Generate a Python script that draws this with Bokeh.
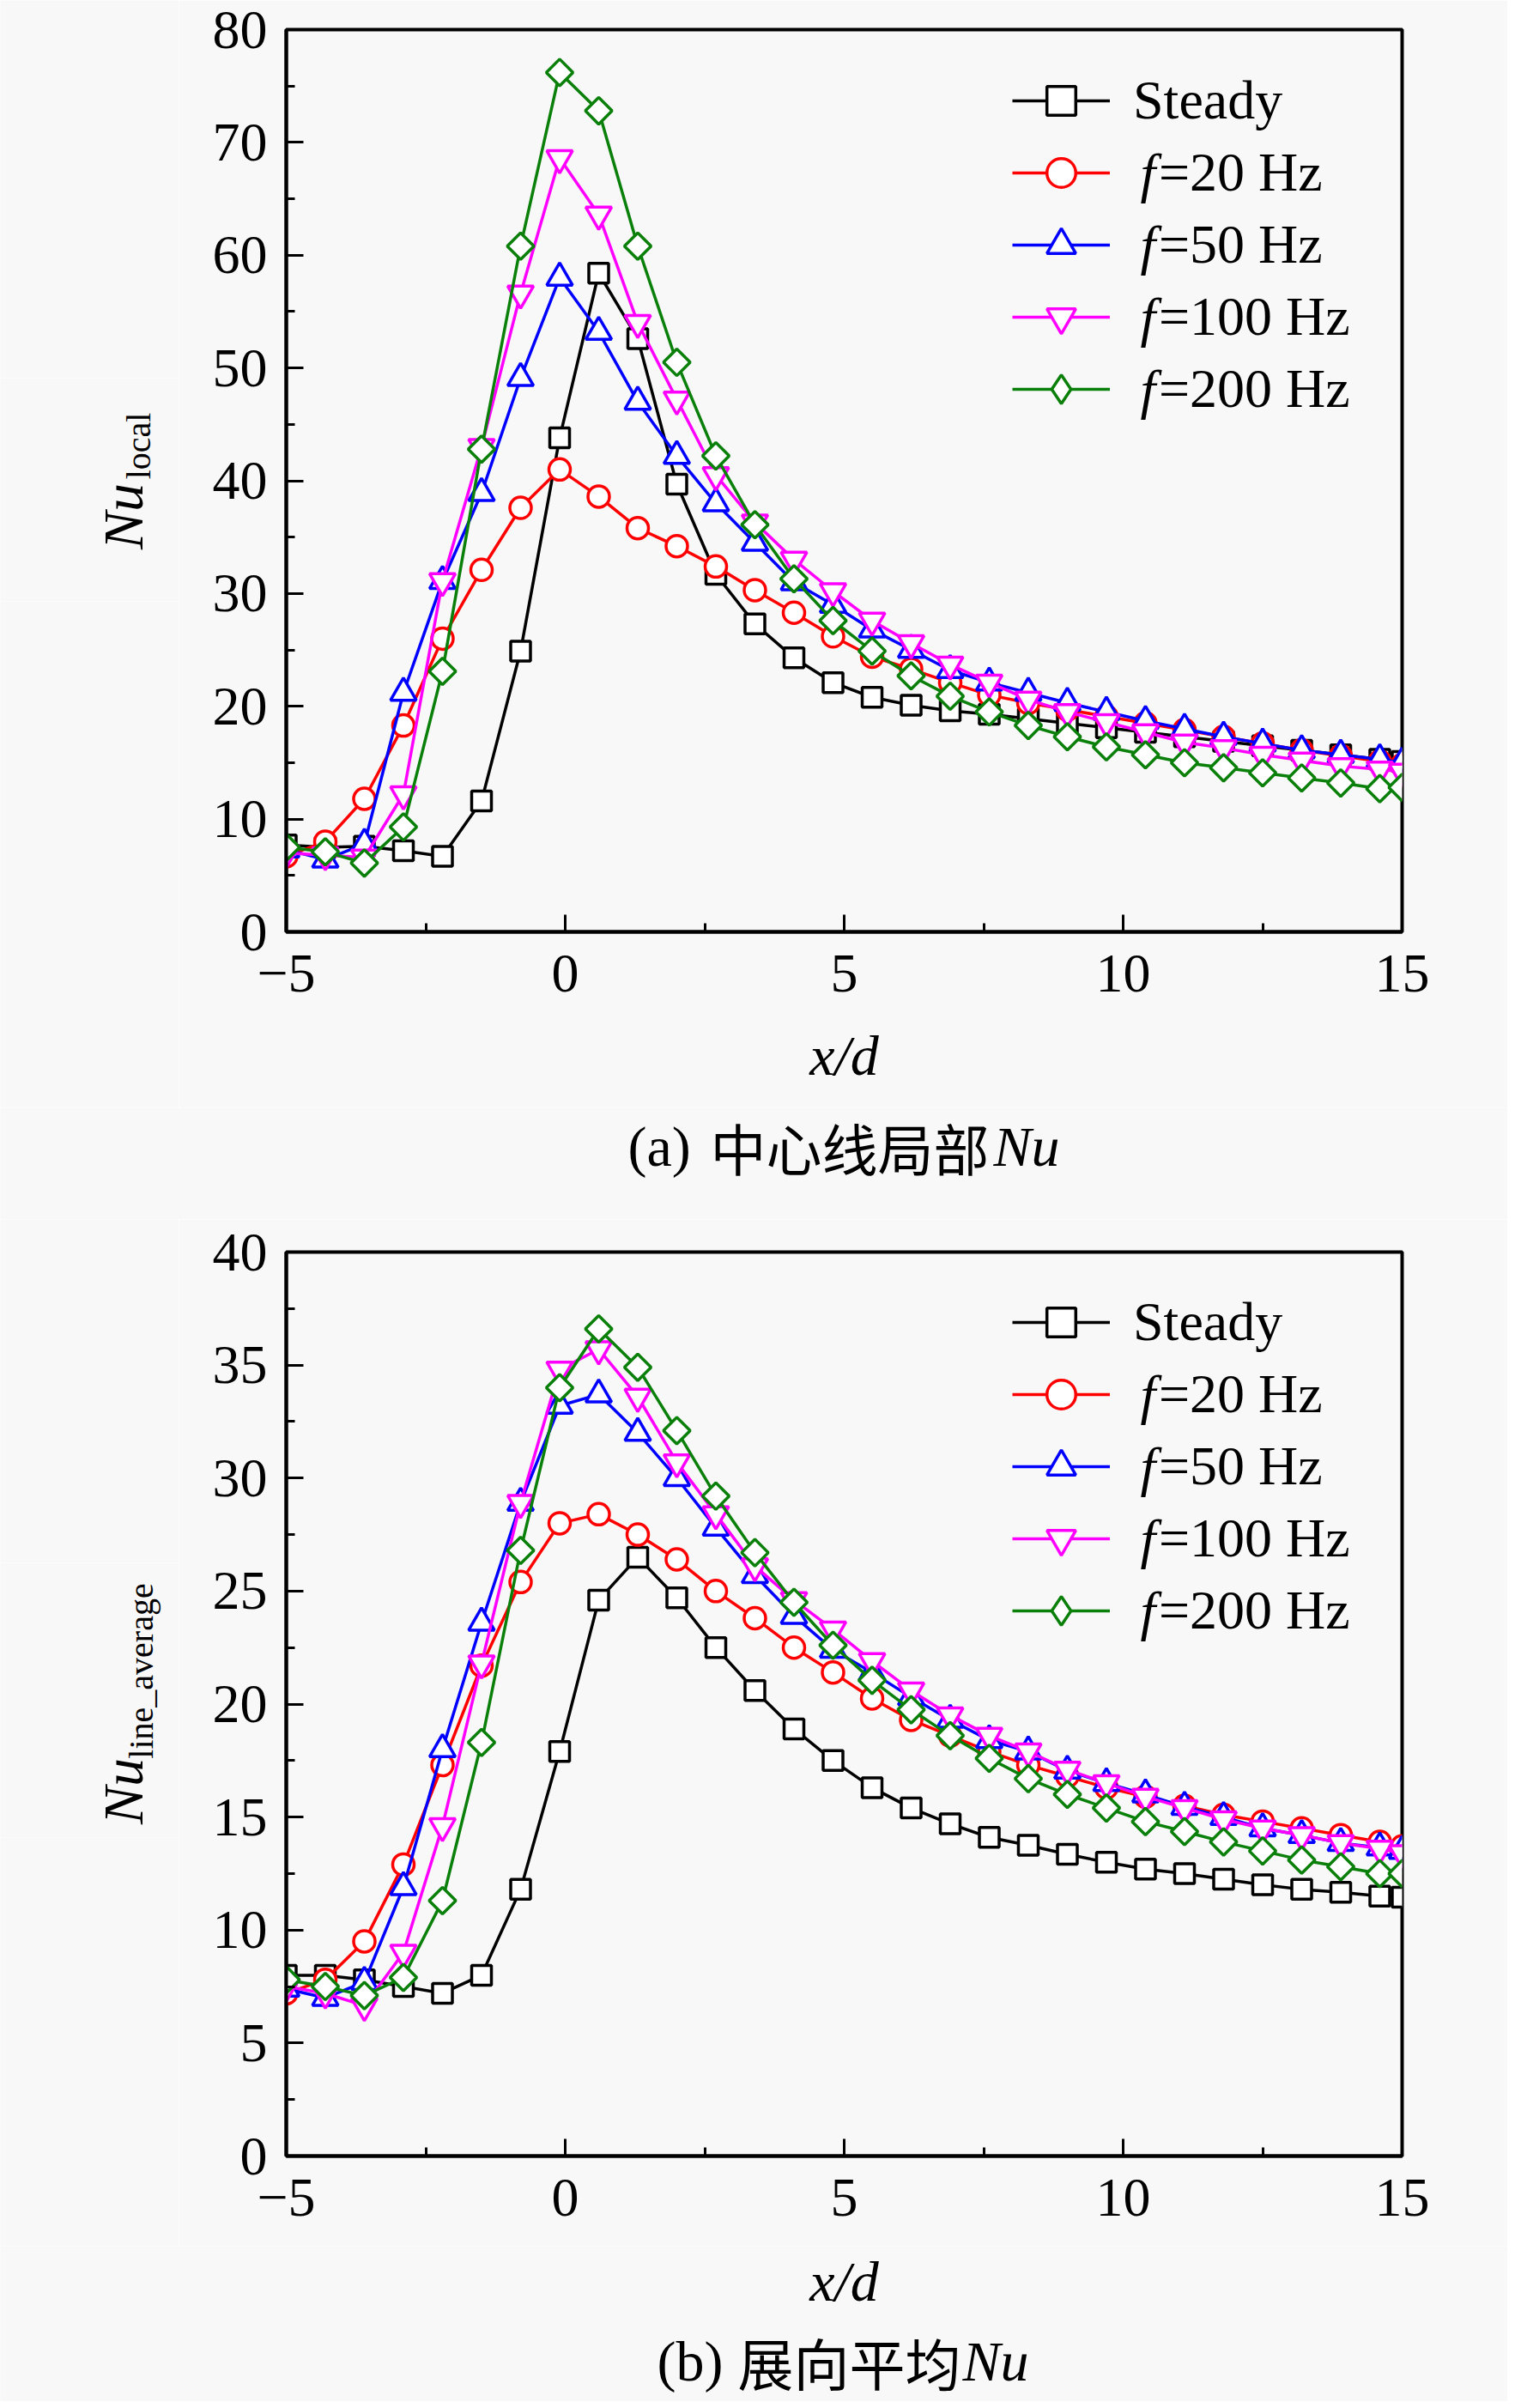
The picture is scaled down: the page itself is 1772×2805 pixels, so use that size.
import numpy as np
from bokeh.plotting import figure
from bokeh.models import Range1d, SingleIntervalTicker, Legend, LegendItem, Label
from bokeh.core.properties import value
from bokeh.layouts import column, row
from bokeh.embed import file_html
from bokeh.resources import INLINE

# ---------------- data ----------------
x_d = [-5.0, -4.3, -3.6, -2.9, -2.2, -1.5, -0.8, -0.1, 0.6, 1.3, 2.0, 2.7, 3.4, 4.1, 4.8,
       5.5, 6.2, 6.9, 7.6, 8.3, 9.0, 9.7, 10.4, 11.1, 11.8, 12.5, 13.2, 13.9, 14.6, 15.0]

series_names = ["Steady", "f=20 Hz", "f=50 Hz", "f=100 Hz", "f=200 Hz"]

# (a) centre-line local Nu
steady_a = [7.7, 7.5, 7.6, 7.2, 6.7, 11.6, 24.9, 43.8, 58.4, 52.6, 39.7, 31.7, 27.3, 24.3, 22.1,
            20.8, 20.1, 19.6, 19.3, 18.9, 18.5, 18.1, 17.7, 17.3, 16.9, 16.5, 16.1, 15.7, 15.3, 15.1]
f20_a = [6.7, 8.0, 11.8, 18.3, 26.0, 32.1, 37.6, 41.0, 38.6, 35.8, 34.2, 32.4, 30.3, 28.3, 26.2,
         24.4, 23.3, 22.1, 21.0, 20.3, 19.7, 19.1, 18.5, 17.9, 17.3, 16.7, 16.1, 15.6, 15.1, 14.8]
f50_a = [7.3, 6.4, 7.8, 21.2, 31.1, 38.9, 49.1, 58.0, 53.2, 47.0, 42.2, 38.0, 34.5, 31.0, 29.0,
         26.8, 25.0, 23.2, 22.1, 21.2, 20.3, 19.5, 18.7, 18.0, 17.3, 16.7, 16.1, 15.7, 15.3, 15.0]
f100_a = [7.0, 6.8, 6.6, 12.2, 31.1, 43.0, 56.6, 68.6, 63.6, 54.0, 47.2, 40.5, 36.3, 33.0, 30.2,
          27.6, 25.6, 23.7, 22.1, 20.6, 19.5, 18.6, 17.7, 16.8, 16.3, 15.7, 15.2, 14.7, 14.4, 14.2]
f200_a = [7.5, 7.1, 6.1, 9.3, 23.1, 42.8, 60.8, 76.2, 72.8, 60.8, 50.5, 42.2, 36.1, 31.3, 27.6,
          24.9, 22.7, 20.9, 19.5, 18.3, 17.3, 16.4, 15.7, 15.0, 14.55, 14.1, 13.65, 13.2, 12.7, 12.8]

# (b) spanwise-averaged Nu
steady_b = [8.0, 8.0, 7.8, 7.5, 7.2, 8.0, 11.8, 17.9, 24.6, 26.5, 24.7, 22.5, 20.6, 18.9, 17.5,
            16.3, 15.4, 14.7, 14.1, 13.75, 13.35, 13.0, 12.7, 12.5, 12.25, 12.0, 11.8, 11.67, 11.5, 11.45]
f20_b = [7.2, 7.8, 9.5, 12.9, 17.3, 21.7, 25.4, 28.0, 28.4, 27.5, 26.4, 25.0, 23.8, 22.5, 21.4,
         20.25, 19.3, 18.6, 17.9, 17.3, 16.8, 16.3, 15.9, 15.5, 15.1, 14.8, 14.5, 14.2, 13.9, 13.7]
f50_b = [7.4, 7.0, 7.7, 11.9, 18.0, 23.6, 28.9, 33.2, 33.7, 32.0, 30.0, 27.8, 25.7, 23.9, 22.4,
         21.4, 20.3, 19.3, 18.4, 17.9, 17.05, 16.5, 16.0, 15.45, 15.0, 14.5, 14.2, 13.85, 13.65, 13.5]
f100_b = [7.5, 7.2, 6.65, 9.0, 14.6, 21.8, 28.9, 34.8, 35.7, 33.6, 30.7, 28.4, 26.1, 24.6, 23.3,
          21.9, 20.6, 19.5, 18.6, 17.9, 17.1, 16.5, 15.9, 15.4, 14.9, 14.5, 14.2, 13.85, 13.6, 13.4]
f200_b = [7.8, 7.5, 7.1, 7.9, 11.3, 18.3, 26.8, 34.0, 36.6, 34.9, 32.1, 29.2, 26.7, 24.5, 22.6,
          21.05, 19.75, 18.6, 17.6, 16.7, 16.0, 15.4, 14.8, 14.36, 13.9, 13.5, 13.1, 12.8, 12.5, 12.5]

x_ticks_overrides = {-5: "\u22125", 0: "0", 5: "5", 10: "10", 15: "15"}

# ---------------- styles ----------------
COLORS = ["black", "#ff0000", "#0000ff", "#ff00ff", "#0a800a"]
MARKERS = ["square", "circle", "triangle", "inverted_triangle", "square"]
SIZES = [23, 25, 30, 30, 22]
ANGLES = [0, 0, 0, 0, np.pi / 4]
SERIF = "Liberation Serif"
CJK = "Noto Sans CJK SC"
BG = "#f8f8f8"
FS = "64px"
LW = 3.5

TOTAL_W = 1756
YLAB_W = 208
FRAME_W = 1300
XMIN, XMAX = -5, 15


def blank_fig(width, height):
    f = figure(width=width, height=height, x_range=Range1d(0, width),
               y_range=Range1d(0, height), output_backend="svg", toolbar_location=None,
               x_axis_type=None, y_axis_type=None)
    f.min_border = 0
    f.min_border_left = 0
    f.min_border_right = 0
    f.min_border_top = 0
    f.min_border_bottom = 0
    f.outline_line_color = None
    f.background_fill_color = BG
    f.border_fill_color = BG
    f.xgrid.visible = False
    f.ygrid.visible = False
    return f


def ylabel_column(total_h, box_top, box_h, sub_text, nu_xy, sub_xy):
    """Narrow column left of a plot: blank / label box / blank (page-pixel layout)."""
    f = blank_fig(YLAB_W, box_h)
    f.text(x=[nu_xy[0]], y=[nu_xy[1]], text=["Nu"], angle=np.pi / 2,
           text_font=value(SERIF), text_font_style="italic", text_font_size="66px",
           text_align="center", text_baseline="middle", text_color="black")
    f.text(x=[sub_xy[0]], y=[sub_xy[1]], text=[sub_text], angle=np.pi / 2,
           text_font=value(SERIF), text_font_size="40px",
           text_align="center", text_baseline="middle", text_color="black")
    upper = blank_fig(YLAB_W, box_top)
    lower = blank_fig(YLAB_W, total_h - box_top - box_h)
    return column(upper, f, lower, spacing=0)


def lab(x, y, text, font, size, italic=False, align="left"):
    return Label(x=x, y=y, text=text, text_font=font,
                 text_font_style="italic" if italic else "normal", text_font_size=size,
                 text_baseline="middle", text_align=align, text_color="black")


def caption_fig(height, tag, cjk, xs, mid_y, xd_y=None):
    f = blank_fig(TOTAL_W, height)
    if xd_y is not None:
        f.add_layout(lab(983, xd_y, "x/d", SERIF, "66px", True, "center"))
    f.add_layout(lab(xs[0], mid_y, tag, SERIF, "66px"))
    f.add_layout(lab(xs[1], mid_y, cjk, CJK, "65px"))
    f.add_layout(lab(xs[2], mid_y, "Nu", SERIF, "66px", True))
    return f


def main_fig(series, ymax, ystep, height, top, frame_h, leg_top, with_xlabel):
    p = figure(width=TOTAL_W - YLAB_W, height=height, x_range=Range1d(XMIN, XMAX),
               y_range=Range1d(0, ymax), output_backend="svg", toolbar_location=None)
    p.min_border_left = 333 - YLAB_W
    p.min_border_right = TOTAL_W - 333 - FRAME_W
    p.min_border_top = top
    p.min_border_bottom = height - top - frame_h
    p.background_fill_color = BG
    p.border_fill_color = BG
    p.outline_line_color = "black"
    p.outline_line_width = 4
    p.xgrid.visible = False
    p.ygrid.visible = False

    p.xaxis.ticker = SingleIntervalTicker(interval=5, num_minor_ticks=2)
    p.yaxis.ticker = SingleIntervalTicker(interval=ystep, num_minor_ticks=2)
    p.xaxis.major_label_overrides = x_ticks_overrides
    for ax in (p.xaxis, p.yaxis):
        ax.axis_line_width = 4
        ax.axis_line_color = "black"
        ax.major_tick_in = 20
        ax.major_tick_out = 0
        ax.minor_tick_in = 10
        ax.minor_tick_out = 0
        ax.major_tick_line_width = 3
        ax.minor_tick_line_width = 3
        ax.major_label_text_font = SERIF
        ax.major_label_text_font_size = FS
        ax.major_label_text_color = "black"
    p.xaxis.major_label_standoff = 27
    p.yaxis.major_label_standoff = 22
    if with_xlabel:
        p.xaxis.axis_label = "x/d"
        p.xaxis.axis_label_text_font = SERIF
        p.xaxis.axis_label_text_font_style = "italic"
        p.xaxis.axis_label_text_font_size = "66px"
        p.xaxis.axis_label_text_color = "black"
        p.xaxis.axis_label_standoff = 35

    items_steady, items_f = [], []
    for i, ys in enumerate(series):
        ln = p.line(x_d, ys, line_color=COLORS[i], line_width=LW)
        sc = p.scatter(x_d, ys, marker=MARKERS[i], size=SIZES[i], angle=ANGLES[i],
                       line_color=COLORS[i], line_width=LW, fill_color="white")
        if i == 0:
            items_steady.append(LegendItem(label=series_names[i], renderers=[ln, sc]))
        elif i == 4:
            # legend-only view of the same points, drawn as a diamond symbol
            dm = p.scatter(x_d, ys, marker="diamond", size=36, line_color=COLORS[i],
                           line_width=LW, fill_color="white", visible=False)
            items_f.append(LegendItem(label=series_names[i][1:], renderers=[ln, dm]))
        else:
            items_f.append(LegendItem(label=series_names[i][1:], renderers=[ln, sc]))

    row_h = 84
    leg_x = 846
    common = dict(glyph_width=114, glyph_height=row_h, label_height=row_h, spacing=0,
                  padding=0, margin=0, border_line_color=None, background_fill_alpha=0,
                  inactive_fill_alpha=0,
                  label_text_font=SERIF, label_text_font_size=FS, label_text_color="black")
    leg1 = Legend(items=items_steady, location=(leg_x, frame_h - leg_top - row_h),
                  label_standoff=27, **common)
    leg2 = Legend(items=items_f, location=(leg_x, frame_h - leg_top - 5 * row_h),
                  label_standoff=57, **common)
    p.add_layout(leg1)
    p.add_layout(leg2)

    ypp = ymax / frame_h
    xpp = (XMAX - XMIN) / FRAME_W
    for r in range(1, 5):
        p.add_layout(Label(x=XMIN + 995 * xpp, y=ymax - (leg_top + row_h * (r + 0.5)) * ypp,
                           text="f", text_font=SERIF, text_font_style="italic",
                           text_font_size=FS, text_baseline="middle", text_align="left",
                           text_color="black"))
    return p


# row 1 : 0 -> 1290 ; caption 1290 -> 1420 ; row 2 : 1420 -> 2616 ; caption 2616 -> 2797
H1, H2 = 1290, 1196
HC1, HC2 = 130, 181
p1 = main_fig([steady_a, f20_a, f50_a, f100_a, f200_a], 80, 10, H1, 34, 1051, 41, True)
B1_TOP, B1_H = 440, 260          # label box spans page y 440 -> 700
y1 = ylabel_column(H1, B1_TOP, B1_H, "local",
                   (143, B1_H - (601 - B1_TOP)), (161, B1_H - (519 - B1_TOP)))
c1 = caption_fig(HC1, "(a)", "中心线局部", (731, 827, 1157), HC1 - (1335 - 1290))

p2 = main_fig([steady_b, f20_b, f50_b, f100_b, f200_b], 40, 5, H2, 38, 1053, 40, False)
B2_TOP, B2_H = 1820 - 1420, 320  # label box spans page y 1820 -> 2140
y2 = ylabel_column(H2, B2_TOP, B2_H, "line_average",
                   (143, B2_H - (2086 - 1820)), (164, B2_H - (1946 - 1820)))
c2 = caption_fig(HC2, "(b)", "展向平均", (765, 859, 1121), HC2 - (2750 - 2616),
                 xd_y=HC2 - (2657 - 2616))

layout = column(row(y1, p1, spacing=0), c1, row(y2, p2, spacing=0), c2, spacing=0)
open("out.html", "w").write(file_html(layout, INLINE))
